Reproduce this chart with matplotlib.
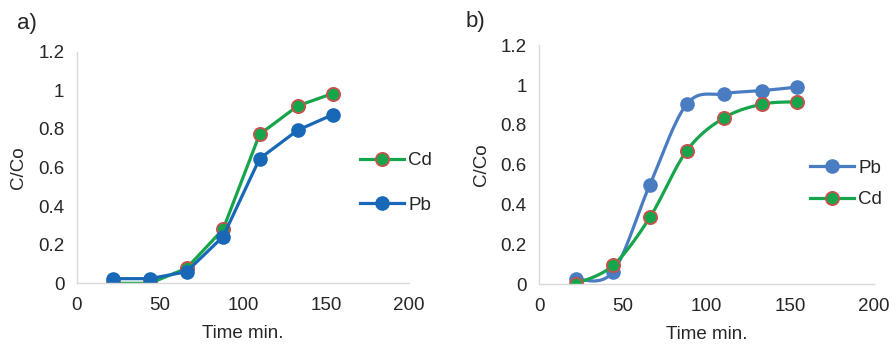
import numpy as np
import matplotlib
matplotlib.use("Agg")
import matplotlib.pyplot as plt

plt.rcParams['font.family'] = ['Liberation Sans', 'DejaVu Sans']

# panel a) data
time_a = [22, 44, 66, 88, 110, 133, 154]
cd_a = [0.0, 0.0, 0.078, 0.28, 0.772, 0.92, 0.984]
pb_a = [0.024, 0.024, 0.06, 0.242, 0.646, 0.794, 0.874]

# panel b) data
time_b = [22, 44, 66, 88, 110, 133, 154]
pb_b = [0.025, 0.063, 0.50, 0.904, 0.956, 0.972, 0.99]
cd_b = [0.003, 0.095, 0.336, 0.67, 0.834, 0.904, 0.916]

GREEN = '#17a54b'
EDGE = '#c9504d'
BLUE_A = '#1868b7'
BLUE_B = '#4a7cc1'
GRID = '#d9d9d9'
TXT = '#262626'
FS = 13.5


def smooth(x, y, sx, sy, n=30):
    # excel-like smoothed line: catmull-rom bezier in screen-ish space
    p = np.column_stack([np.asarray(x, float) / sx, np.asarray(y, float) / sy])
    out = []
    for i in range(len(p) - 1):
        p0 = p[i - 1] if i > 0 else p[i]
        p1, p2 = p[i], p[i + 1]
        p3 = p[i + 2] if i + 2 < len(p) else p[i + 1]
        c1 = p1 + (p2 - p0) / 6
        c2 = p2 - (p3 - p1) / 6
        t = np.linspace(0, 1, n)[:, None]
        seg = ((1 - t) ** 3) * p1 + 3 * ((1 - t) ** 2) * t * c1 + 3 * (1 - t) * t ** 2 * c2 + t ** 3 * p2
        out.append(seg if i == 0 else seg[1:])
    out = np.vstack(out)
    return out[:, 0] * sx, out[:, 1] * sy


def style_axes(ax):
    ax.set_xlim(0, 200)
    ax.set_ylim(0, 1.2)
    ax.set_xticks([0, 50, 100, 150, 200])
    ax.set_yticks([0, 0.2, 0.4, 0.6, 0.8, 1.0, 1.2])
    ax.set_yticklabels(['0', '0.2', '0.4', '0.6', '0.8', '1', '1.2'])
    for s in ['top', 'right']:
        ax.spines[s].set_visible(False)
    for s in ['left', 'bottom']:
        ax.spines[s].set_color(GRID)
        ax.spines[s].set_linewidth(1.0)
    ax.tick_params(length=0, labelsize=FS, colors=TXT)
    ax.tick_params(axis='x', pad=10)
    ax.tick_params(axis='y', pad=9)
    ax.set_xlabel('Time min.', fontsize=FS, color=TXT, labelpad=8)
    ax.set_ylabel('C/Co', fontsize=FS, color=TXT, labelpad=8)
    ax.patch.set_alpha(0)


fig = plt.figure(figsize=(8.93, 3.47), dpi=100)

mk = dict(marker='o', markersize=9.5, linewidth=2.3)

# ---- panel a
ax1 = fig.add_axes([0.0862, 0.1836, 0.3718, 0.667])
ax1.plot(time_a, cd_a, color=GREEN, markerfacecolor=GREEN, markeredgecolor=EDGE,
         markeredgewidth=1.3, label='Cd', **mk)
ax1.plot(time_a, pb_a, color=BLUE_A, markerfacecolor=BLUE_A, markeredgecolor=BLUE_A,
         label='Pb', **mk)
style_axes(ax1)
ax1.legend(loc='center left', bbox_to_anchor=(351 / 893, 1 - 183 / 347),
           bbox_transform=fig.transFigure, frameon=False, fontsize=FS,
           handlelength=2.35, handletextpad=0.2, labelspacing=1.45,
           borderpad=0, labelcolor=TXT)
fig.text(17 / 893, 1 - 23 / 347, 'a)', fontsize=16, color=TXT, va='center')

# ---- panel b
ax2 = fig.add_axes([0.604, 0.1807, 0.375, 0.689])
sx, sy = 200 / 335.0, 1.2 / 239.0
xs, ys = smooth(time_b, pb_b, sx, sy)
ax2.plot(xs, ys, color=BLUE_B, linewidth=2.3)
ax2.plot(time_b, pb_b, color=BLUE_B, linestyle='none', marker='o', markersize=9.5,
         markerfacecolor=BLUE_B, markeredgecolor=BLUE_B)
xs, ys = smooth(time_b, cd_b, sx, sy)
ax2.plot(xs, ys, color=GREEN, linewidth=2.3)
ax2.plot(time_b, cd_b, color=GREEN, linestyle='none', marker='o', markersize=9.5,
         markerfacecolor=GREEN, markeredgecolor=EDGE, markeredgewidth=1.3)
style_axes(ax2)
h_pb = plt.Line2D([], [], color=BLUE_B, markerfacecolor=BLUE_B, markeredgecolor=BLUE_B, **mk)
h_cd = plt.Line2D([], [], color=GREEN, markerfacecolor=GREEN, markeredgecolor=EDGE,
                  markeredgewidth=1.3, **mk)
ax2.legend([h_pb, h_cd], ['Pb', 'Cd'], loc='center left',
           bbox_to_anchor=(801 / 893, 1 - 184 / 347), bbox_transform=fig.transFigure,
           frameon=False, fontsize=FS, handlelength=2.35, handletextpad=0.2,
           labelspacing=0.75, borderpad=0, labelcolor=TXT)
fig.text(466 / 893, 1 - 21 / 347, 'b)', fontsize=16, color=TXT, va='center')

fig.savefig('out.png', dpi=100)
